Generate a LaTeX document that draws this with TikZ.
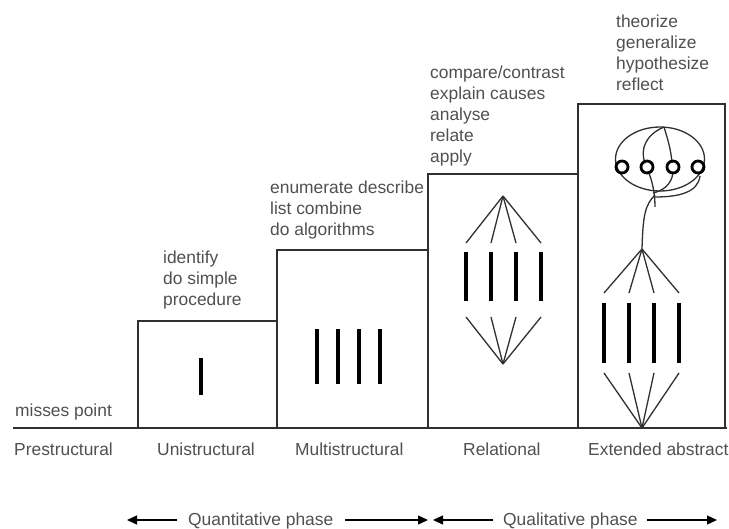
\documentclass[tikz,border=0pt]{standalone}
\usepackage{fontspec}
\setmainfont{Liberation Sans}
\usetikzlibrary{arrows.meta}
\definecolor{txt}{HTML}{505050}
\definecolor{ln}{HTML}{303030}
\begin{document}
\begin{tikzpicture}[x=1pt,y=-1pt,
  lbl/.style={font=\fontsize{17.4}{21}\selectfont, text=txt, inner sep=0pt, anchor=base west, align=left},
  frame/.style={draw=ln, line width=1.6pt},
  bar/.style={line width=3.6pt, draw=black},
  link/.style={draw=ln, line width=1.3pt},
  ring/.style={draw=black, line width=2.8pt, circle, minimum size=12pt, inner sep=0pt},
  phase/.style={-{Triangle[length=10pt,width=9pt]}, line width=1.3pt, draw=black}]
\useasboundingbox (0,0) rectangle (729,528);

% ground line and level boxes
\coordinate (g0) at (13,428);
\coordinate (g1) at (727,428);
\draw[frame] (g0) -- (g1);
\draw[frame] (138,428) rectangle (277,321);
\draw[frame] (277,428) rectangle (428,250);
\draw[frame] (428,428) rectangle (578,174);
\draw[frame] (578,428) rectangle (725,104);

% unistructural
\draw[bar] (201,358) -- (201,395);

% multistructural
\foreach \x in {317,338,359,380} \draw[bar] (\x,329) -- (\x,384);

% relational
\coordinate (rt) at (503,196);
\coordinate (rb) at (503,364);
\foreach \x in {466,491,516,541} {
  \draw[link] (rt) -- (\x,243);
  \draw[bar] (\x,252) -- (\x,301);
  \draw[link] (\x,317) -- (rb);
}

% extended abstract
\coordinate (et) at (642,249);
\coordinate (eb) at (642,428);
\foreach \x in {604,629,654,679} {
  \draw[link] (et) -- (\x,293);
  \draw[bar] (\x,303) -- (\x,363);
  \draw[link] (\x,373) -- (eb);
}
\draw[link] (660,159) ellipse [x radius=44.5pt, y radius=32pt];
\draw[link] (664,127) .. controls (645,135) and (640,150) .. (645,163);
\draw[link] (648,171) .. controls (652,180) and (655,192) .. (655,207);
\draw[link] (664,127) .. controls (668,140) and (671,150) .. (672,163);
\draw[link] (673,172) .. controls (672,185) and (662,191) .. (653,193);
\draw[link] (700,176) .. controls (698,192) and (680,197) .. (655,197);
\draw[link] (655,195) .. controls (645,205) and (643,215) .. (et);
\node[ring] (c1) at (622,167) {};
\node[ring] (c2) at (647,167) {};
\node[ring] (c3) at (673,167) {};
\node[ring] (c4) at (698,167) {};

% verbs (anchor is the baseline of the last line)
\node[lbl] (mp) at (15,416) {misses point};
\node[lbl] (t1) at (163,305) {identify\\do simple\\procedure};
\node[lbl] (t2) at (270,235) {enumerate describe\\list combine\\do algorithms};
\node[lbl] (t3) at (430,162) {compare/contrast\\explain causes\\analyse\\relate\\apply};
\node[lbl] (t4) at (616,90) {theorize\\generalize\\hypothesize\\reflect};

% level names
\node[lbl] (l1) at (14,455) {Prestructural};
\node[lbl] (l2) at (157,455) {Unistructural};
\node[lbl] (l3) at (295,455) {Multistructural};
\node[lbl] (l4) at (463,455) {Relational};
\node[lbl] (l5) at (588,455) {Extended abstract};

% phases
\node[lbl] (q1) at (188,525) {Quantitative phase};
\node[lbl] (q2) at (503,525) {Qualitative phase};
\coordinate (a0) at (127,520);
\coordinate (a1) at (177,520);
\coordinate (a2) at (345,520);
\coordinate (a3) at (428,520);
\coordinate (a4) at (433,520);
\coordinate (a5) at (493,520);
\coordinate (a6) at (647,520);
\coordinate (a7) at (717,520);
\draw[phase] (a1) -- (a0);
\draw[phase] (a2) -- (a3);
\draw[phase] (a5) -- (a4);
\draw[phase] (a6) -- (a7);
\end{tikzpicture}
\end{document}
